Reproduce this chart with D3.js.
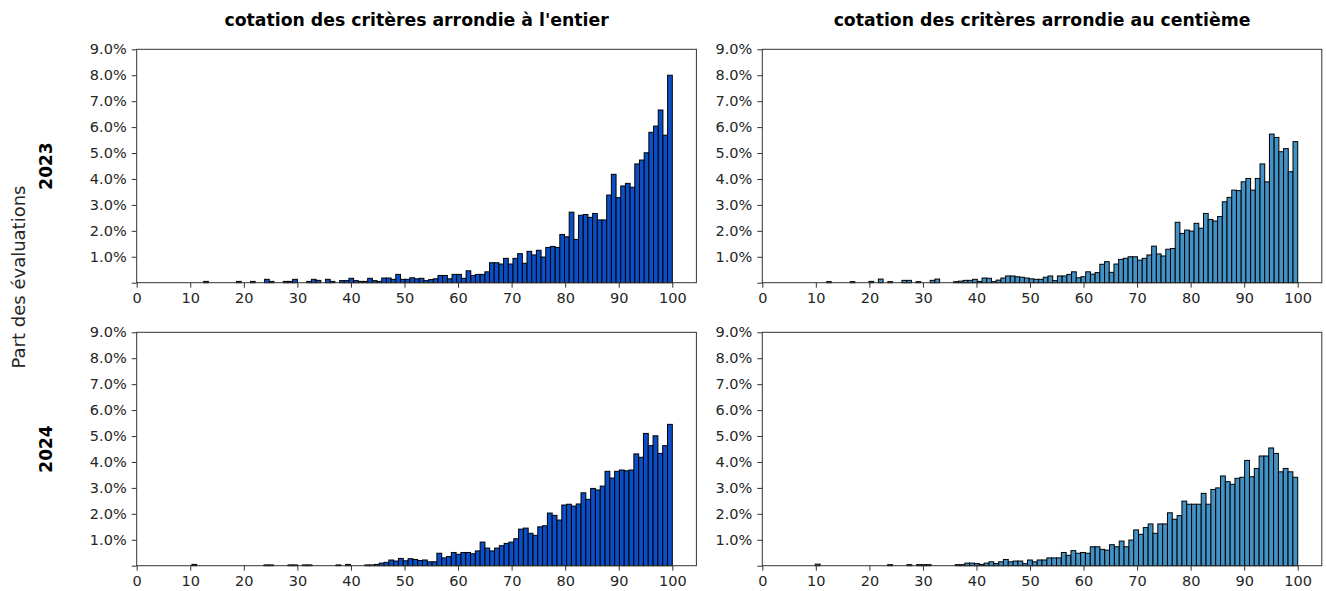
<!DOCTYPE html>
<html><head><meta charset="utf-8">
<script src="https://cdn.jsdelivr.net/npm/d3@7"></script>
<style>body{margin:0;background:#fff}svg{display:block}</style>
</head><body>
<svg id="chart" width="1326" height="591"></svg>
<script>
// ---------- data ----------
const colTitles = ["cotation des critères arrondie à l'entier", "cotation des critères arrondie au centième"];
const rowLabels = ["2023", "2024"];
const yLabel = "Part des évaluations";
const xTickValues = [0, 10, 20, 30, 40, 50, 60, 70, 80, 90, 100];
const yTickValues = [0, 1, 2, 3, 4, 5, 6, 7, 8, 9];
const binCount = 100;
const scoreMax = 100;
// lowest score of each histogram (bins run from it to 100)
const minScore2023Entier = 12.5;
const minScore2023Centieme = 12.0;
const minScore2024Entier = 10.3;
const minScore2024Centieme = 9.9;
// share of evaluations per bin (%)
const share2023Entier = [0.05,0,0,0,0,0,0,0.05,0,0,
 0.05,0,0,0.13,0.05,0,0,0.05,0.05,0.13,
 0,0,0.05,0.13,0.09,0,0.13,0.05,0,0.08,
 0.08,0.17,0.08,0.05,0.05,0.17,0.08,0.05,0.18,0.18,
 0.13,0.32,0.13,0.13,0.19,0.15,0.17,0.08,0.12,0.15,
 0.28,0.28,0.15,0.32,0.32,0.17,0.46,0.28,0.32,0.32,
 0.42,0.77,0.77,0.72,0.94,0.72,0.94,1.12,0.75,1.21,
 1.07,1.25,0.99,1.36,1.40,1.36,1.86,1.77,2.72,1.67,
 2.60,2.63,2.52,2.67,2.42,2.42,3.38,4.18,3.28,3.73,
 3.83,3.68,4.58,4.73,5.01,5.80,6.04,6.66,5.69,8.00];
const share2023Centieme = [0.04,0,0,0,0,0.04,0,0,0,0.05,
 0,0.14,0,0.04,0,0,0.09,0.09,0,0.04,
 0,0,0.09,0.14,0,0,0,0.04,0.06,0.09,
 0.09,0.13,0.05,0.18,0.17,0.04,0.10,0.18,0.26,0.26,
 0.23,0.21,0.18,0.15,0.13,0.13,0.21,0.26,0.08,0.26,
 0.26,0.32,0.42,0.19,0.23,0.42,0.33,0.39,0.71,0.81,
 0.40,0.72,0.90,0.94,1.00,1.00,0.87,0.94,1.07,1.41,
 1.11,1.03,1.29,1.32,2.33,1.90,2.03,1.99,2.29,2.10,
 2.67,2.44,2.38,2.55,3.12,3.29,3.57,3.55,3.89,4.02,
 3.57,4.02,4.58,3.89,5.73,5.60,5.05,5.17,4.28,5.44];
const share2024Entier = [0.05,0,0,0,0,0,0,0,0,0,
 0,0,0,0,0,0.03,0.03,0,0,0,
 0.03,0.03,0,0.03,0.03,0,0,0,0,0,
 0.03,0,0.05,0,0,0,0.03,0.03,0.05,0.10,
 0.13,0.22,0.18,0.28,0.19,0.27,0.24,0.20,0.22,0.15,
 0.15,0.48,0.30,0.35,0.51,0.44,0.51,0.51,0.46,0.57,
 0.91,0.68,0.57,0.68,0.77,0.86,0.91,1.04,1.41,1.45,
 1.25,1.17,1.50,1.54,2.03,1.94,1.76,2.34,2.37,2.30,
 2.38,2.81,2.56,2.98,2.92,3.07,3.64,3.38,3.64,3.69,
 3.66,3.69,4.31,4.18,5.10,4.63,5.01,4.33,4.63,5.45];
const share2024Centieme = [0.06,0,0,0,0,0,0,0,0,0,
 0,0,0,0,0,0.04,0,0,0,0.04,
 0,0.04,0.04,0.04,0,0,0,0,0,0.04,
 0.04,0.10,0.10,0.08,0.05,0.10,0.15,0.08,0.15,0.24,
 0.15,0.18,0.18,0.08,0.22,0.15,0.22,0.22,0.30,0.30,
 0.30,0.51,0.40,0.58,0.48,0.51,0.48,0.73,0.73,0.63,
 0.60,0.81,0.73,0.95,0.73,0.99,1.38,1.21,1.47,1.61,
 1.25,1.61,1.61,2.04,1.79,1.93,2.49,2.37,2.37,2.37,
 2.79,2.37,2.94,3.00,3.46,3.24,3.14,3.37,3.41,4.06,
 3.43,3.75,4.23,4.23,4.54,4.33,3.62,3.75,3.62,3.41];

// ---------- layout ----------
const colX = [[136.7, 696.4], [762.3, 1321.8]];
const rowY = [[49.3, 282.7], [332.3, 565.7]];
const xMax = 104.5, yMax = 9;
const colColors = ["#0a4fc8", "#4292c6"];
const font = "DejaVu Sans, sans-serif";

const panels = [
  {r:0, c:0, min:minScore2023Entier, vals:share2023Entier},
  {r:0, c:1, min:minScore2023Centieme, vals:share2023Centieme},
  {r:1, c:0, min:minScore2024Entier, vals:share2024Entier},
  {r:1, c:1, min:minScore2024Centieme, vals:share2024Centieme}
];

const svg = d3.select("#chart");

panels.forEach(p => {
  const [x0, x1] = colX[p.c], [y0, y1] = rowY[p.r];
  const xs = d3.scaleLinear().domain([0, xMax]).range([x0, x1]);
  const ys = d3.scaleLinear().domain([0, yMax]).range([y1, y0]);
  const w = (scoreMax - p.min) / binCount;
  const bins = p.vals.map((v, k) => ({lo: p.min + k * w, hi: p.min + (k + 1) * w, v}));
  const g = svg.append("g");
  g.selectAll("rect.bar").data(bins).join("rect")
    .attr("class", "bar")
    .attr("x", d => xs(d.lo))
    .attr("width", d => xs(d.hi) - xs(d.lo))
    .attr("y", d => ys(d.v))
    .attr("height", d => ys(0) - ys(d.v))
    .attr("fill", colColors[p.c])
    .attr("stroke", "#000")
    .attr("stroke-width", 1);
  // frame
  g.append("rect").attr("x", x0).attr("y", y0).attr("width", x1 - x0).attr("height", y1 - y0)
    .attr("fill", "none").attr("stroke", "#333").attr("stroke-width", 1);
  const xa = g.append("g").attr("transform", `translate(0,${y1})`)
    .call(d3.axisBottom(xs).tickValues(xTickValues).tickFormat(d3.format("d")).tickSize(5).tickPadding(5));
  const ya = g.append("g").attr("transform", `translate(${x0},0)`)
    .call(d3.axisLeft(ys).tickValues(yTickValues).tickFormat(d => d === 0 ? "" : d.toFixed(1) + "%").tickSize(5).tickPadding(5));
  [xa, ya].forEach(a => {
    a.select(".domain").remove();
    a.selectAll("line").attr("stroke", "#333");
    a.selectAll("text").attr("fill", "#262626").style("font-family", font).style("font-size", "14.5px");
  });
});

// column titles
colTitles.forEach((t, i) => {
  svg.append("text").attr("x", (colX[i][0] + colX[i][1]) / 2).attr("y", 20)
    .attr("text-anchor", "middle").attr("dominant-baseline", "central")
    .style("font-family", font).style("font-weight", "bold").style("font-size", "17.3px").text(t);
});
// row labels
rowLabels.forEach((t, i) => {
  const cy = (rowY[i][0] + rowY[i][1]) / 2;
  svg.append("text").attr("transform", `translate(46,${cy}) rotate(-90)`)
    .attr("text-anchor", "middle").attr("dominant-baseline", "central")
    .style("font-family", font).style("font-weight", "bold").style("font-size", "17px").text(t);
});
svg.append("text").attr("transform", `translate(18,277) rotate(-90)`)
  .attr("text-anchor", "middle").attr("dominant-baseline", "central")
  .attr("fill", "#262626")
  .style("font-family", font).style("font-size", "18px").text(yLabel);
</script>
</body></html>
